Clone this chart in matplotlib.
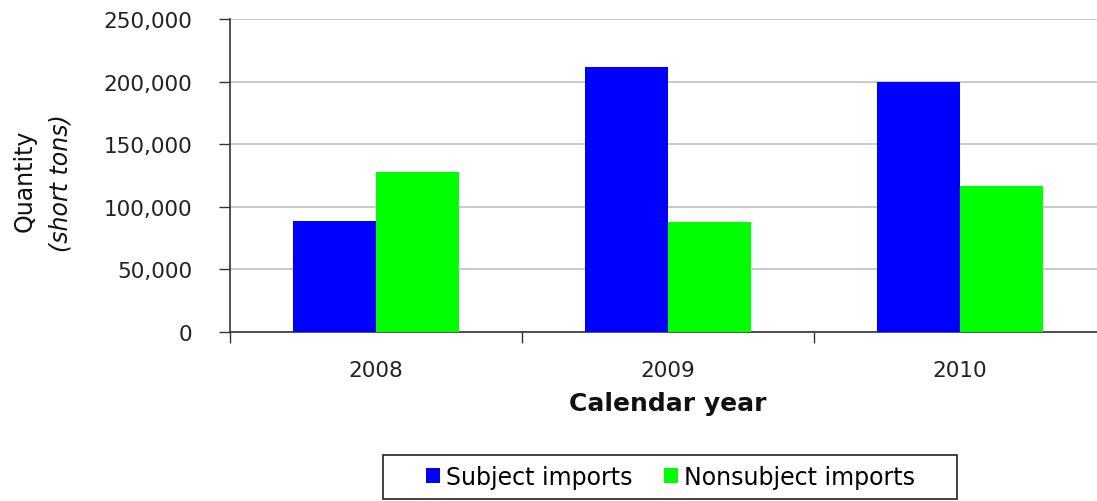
import matplotlib
matplotlib.use('Agg')
import matplotlib.pyplot as plt
import numpy as np
from matplotlib.ticker import FuncFormatter, FixedLocator
from matplotlib.patches import Rectangle

plt.rcParams['font.family'] = ['DejaVu Sans']

years = ['2008', '2009', '2010']
subject = [89000, 211500, 200000]
nonsubject = [128000, 87700, 116400]
series_names = ['Subject imports', 'Nonsubject imports']
y_ticks = [0, 50000, 100000, 150000, 200000, 250000]

fig = plt.figure(figsize=(10.97, 5.02), dpi=100)
ax = fig.add_axes([0.2097, 0.3367, 0.7985, 0.6235])

x = np.arange(len(years))
w = 0.285
b1 = ax.bar(x - w / 2, subject, w, color='#0000ff', label=series_names[0], zorder=3)
b2 = ax.bar(x + w / 2, nonsubject, w, color='#00ff00', label=series_names[1], zorder=3)

ax.set_xlim(-0.5, 2.5)
ax.set_ylim(0, 250000)
ax.set_yticks(y_ticks)
ax.yaxis.set_major_formatter(FuncFormatter(lambda v, p: f'{int(v):,}'))
ax.grid(axis='y', color='#c0c0c0', linewidth=1.2, zorder=0)

# category labels centred, tick marks on the boundaries between categories
ax.set_xticks(x)
ax.set_xticklabels(years)
ax.xaxis.set_minor_locator(FixedLocator([-0.5, 0.5, 1.5, 2.5]))
ax.tick_params(axis='x', which='major', length=0, pad=20, labelsize=15.5, colors='#222222')
ax.tick_params(axis='x', which='minor', length=8, width=1, color='#333333')
ax.tick_params(axis='y', length=8, width=1, color='#333333', labelsize=15.5,
               labelcolor='#222222', pad=19)

for s in ['top', 'right']:
    ax.spines[s].set_visible(False)
for s in ['left', 'bottom']:
    ax.spines[s].set_color('#333333')
    ax.spines[s].set_linewidth(1.2)

ax.set_xlabel('Calendar year', fontsize=18, fontweight='bold', labelpad=8, color='#111111')

fig.text(0.022, 0.64, 'Quantity', rotation=90, ha='center', va='center', fontsize=17, color='#111111')
fig.text(0.055, 0.635, '(short tons)', rotation=90, ha='center', va='center', fontsize=17,
         style='italic', color='#111111')

leg = fig.legend(handles=[b1, b2], loc='center', bbox_to_anchor=(0.611, 0.048), ncol=2,
                 frameon=False, fontsize=17, handlelength=0.6, handleheight=0.6,
                 handletextpad=0.25, columnspacing=1.35)
# legend box is wider than the text padding would give, so draw it separately
fig.patches.append(Rectangle((383 / 1097, 2 / 502), 574 / 1097, 44 / 502, transform=fig.transFigure,
                             fill=False, edgecolor='#222222', linewidth=1.2))

fig.savefig('out.png', dpi=100)
